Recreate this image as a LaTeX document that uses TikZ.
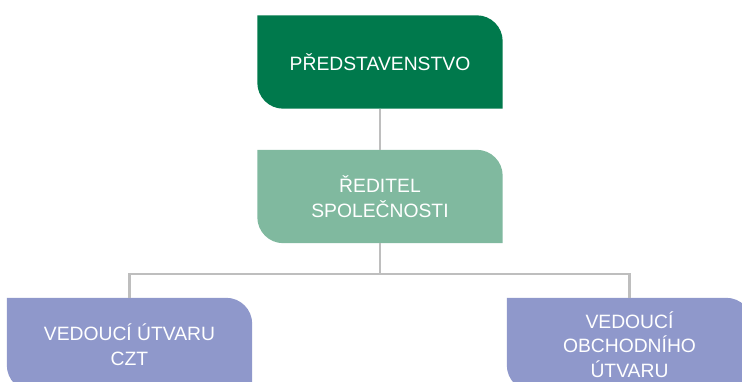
\documentclass[tikz,border=0pt]{standalone}
\usepackage{fontspec}
\setmainfont{Liberation Sans}
\usetikzlibrary{backgrounds}

\definecolor{boardgreen}{RGB}{0,121,76}
\definecolor{directorgreen}{RGB}{128,185,159}
\definecolor{unitblue}{RGB}{143,152,203}
\definecolor{linkgray}{RGB}{190,190,190}

\tikzset{
  unit/.style={minimum width=245pt,minimum height=93pt,inner sep=0pt,align=center,
    text=white,font=\fontsize{19.3}{24.5}\selectfont},
  link/.style={draw=linkgray,line width=2.2pt}
}

% box with rounded top right and bottom left corners
\newcommand{\leafshape}[2]{%
  \fill[#2] (#1.north west) -- ([xshift=-26pt]#1.north east)
    arc[start angle=90,end angle=0,radius=26pt] -- (#1.south east)
    -- ([xshift=26pt]#1.south west)
    arc[start angle=270,end angle=180,radius=26pt] -- cycle;}

\begin{document}
\begin{tikzpicture}[x=1pt,y=1pt]
\useasboundingbox (0,0) rectangle (742,381);

\node[unit] (board) at (380,319) {PŘEDSTAVENSTVO};
\node[unit] (director) at (380,184.5) {ŘEDITEL\\SPOLEČNOSTI};
\node[unit] (czt) at (129.5,36.5) {VEDOUCÍ ÚTVARU\\CZT};
\node[unit] (sales) at (629.5,36.5) {VEDOUCÍ\\OBCHODNÍHO\\ÚTVARU};
\coordinate (split) at (380,107);

\begin{pgfonlayer}{background}
\leafshape{board}{boardgreen}
\leafshape{director}{directorgreen}
\leafshape{czt}{unitblue}
\leafshape{sales}{unitblue}
\end{pgfonlayer}

\path[link] (board.south) -- (director.north);
\path[link] (director.south) -- (split);
\path[link] (split) -| (czt.north);
\path[link] (split) -| (sales.north);
\end{tikzpicture}
\end{document}
